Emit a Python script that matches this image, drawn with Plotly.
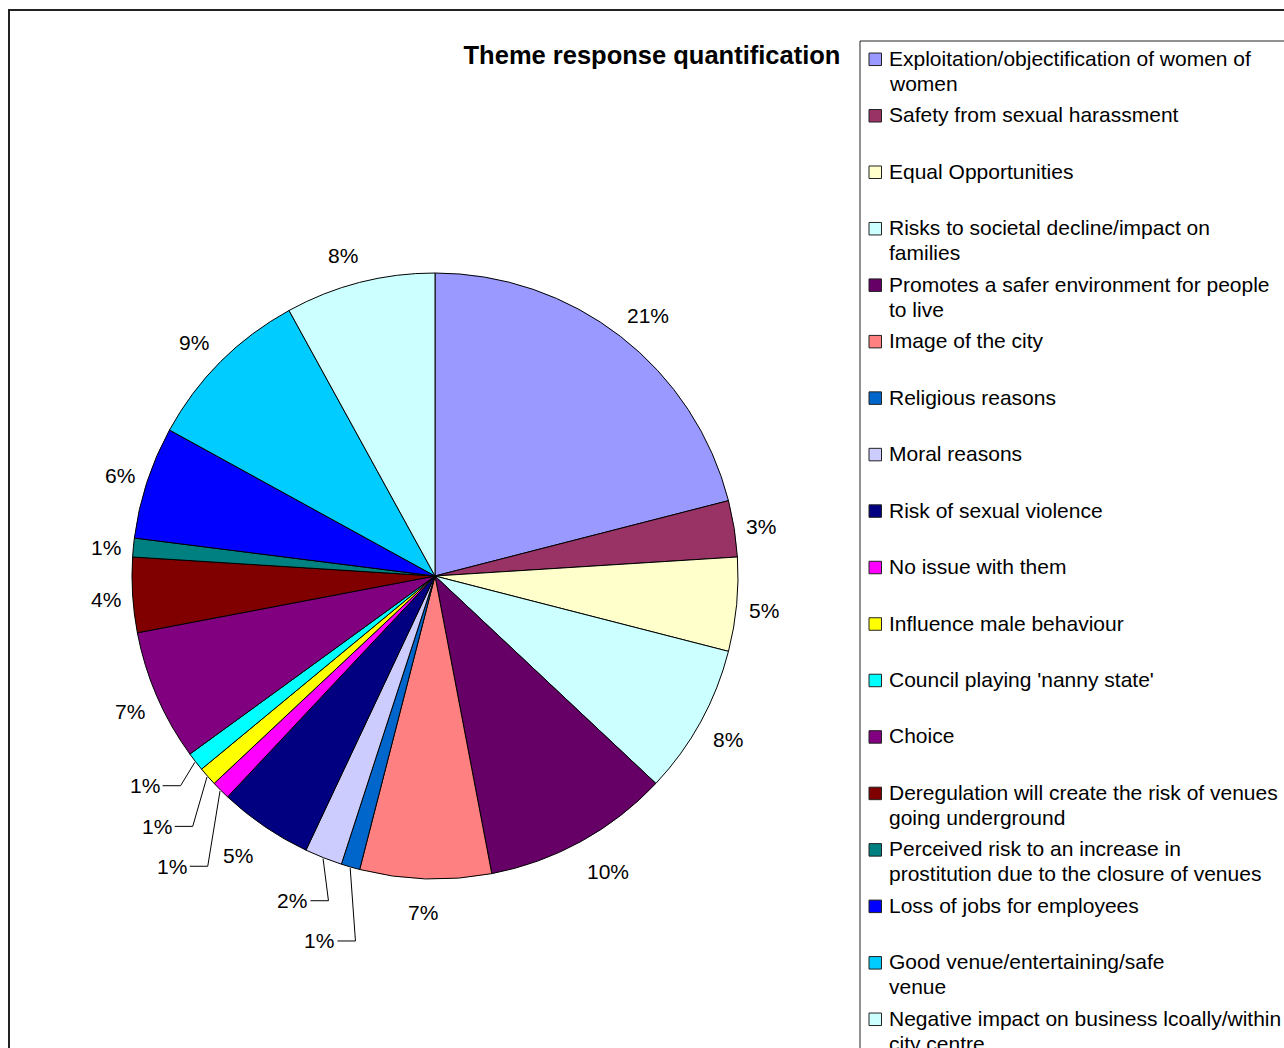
import math
import plotly.graph_objects as go

# Survey themes, in clockwise order from 12 o'clock
themes = [
    "Exploitation/objectification of women of<br>women",
    "Safety from sexual harassment",
    "Equal Opportunities",
    "Risks to societal decline/impact on<br>families",
    "Promotes a safer environment for people<br>to live",
    "Image of the city",
    "Religious reasons",
    "Moral reasons",
    "Risk of sexual violence",
    "No issue with them",
    "Influence male behaviour",
    "Council playing 'nanny state'",
    "Choice",
    "Deregulation will create the risk of venues<br>going underground",
    "Perceived risk to an increase in<br>prostitution due to the closure of venues",
    "Loss of jobs for employees",
    "Good venue/entertaining/safe<br>venue",
    "Negative impact on business lcoally/within<br>city centre",
]

# Share of responses per theme (%)
shares = [21, 3, 5, 8, 10, 7, 1, 2, 5, 1, 1, 1, 7, 4, 1, 6, 9, 8]

colors = [
    "#9999FF", "#993366", "#FFFFCC", "#CCFFFF", "#660066", "#FF8080",
    "#0066CC", "#CCCCFF", "#000080", "#FF00FF", "#FFFF00", "#00FFFF",
    "#800080", "#800000", "#008080", "#0000FF", "#00CCFF", "#CCFFFF",
]

W, H = 1284, 1048
FONT = "Arial, Liberation Sans, sans-serif"
LABEL_SIZE = 21


def px(x):
    return x / W


def py(y):
    return 1 - y / H


# Pie geometry in pixels
cx, cy, r = 435, 576, 303

fig = go.Figure(
    go.Pie(
        labels=[t.replace("<br>", " ") for t in themes],
        values=shares,
        sort=False,
        direction="clockwise",
        rotation=0,
        marker=dict(colors=colors, line=dict(color="black", width=1)),
        textinfo="none",
        showlegend=False,
        hoverinfo="label+percent",
        domain=dict(x=[px(cx - r), px(cx + r)], y=[py(cy + r), py(cy - r)]),
    )
)

shapes = [
    # outer chart frame
    dict(type="rect", xref="paper", yref="paper",
         x0=px(9), x1=px(W + 20), y0=py(10), y1=py(H + 20),
         line=dict(color="#222222", width=2), layer="below"),
    # legend frame
    dict(type="rect", xref="paper", yref="paper",
         x0=px(860), x1=px(W + 20), y0=py(41), y1=py(H + 20),
         line=dict(color="#222222", width=1), layer="below"),
]
annotations = []

# Percentage labels sit just outside each slice's mid-angle.  The thin
# slices that would collide get a callout: the label is offset by (dx, dy)
# pixels from the slice rim and joined to it with an elbow leader line.
callouts = {6: (-31, 74), 7: (-31, 43), 9: (-49, 76), 10: (-51, 50), 11: (-51, 24)}
total = sum(shares)
cum = 0
for i, v in enumerate(shares):
    theta = math.radians(360 * (cum + v / 2) / total)
    cum += v
    ux, uy = math.sin(theta), -math.cos(theta)
    ex, ey = cx + r * ux, cy + r * uy
    text = f"{100 * v / total:.0f}%"
    if i in callouts:
        dx, dy = callouts[i]
        lx, ly = ex + dx, ey + dy
        sx, sy = cx + (r + 1) * ux, cy + (r + 1) * uy
        shapes.append(dict(
            type="path", xref="paper", yref="paper",
            path=(f"M {px(sx)},{py(sy)} L {px(lx + 36)},{py(ly)} "
                  f"L {px(lx + 18)},{py(ly)}"),
            line=dict(color="black", width=1)))
    else:
        lx = ex + math.copysign(27 * min(1.0, abs(ux) / 0.4), ux)
        ly = ey + 3 + 31 * uy
    annotations.append(dict(
        xref="paper", yref="paper", x=px(lx), y=py(ly),
        xanchor="center", yanchor="middle", showarrow=False, text=text,
        font=dict(family=FONT, size=LABEL_SIZE, color="black")))

# Legend entries: swatch + wrapped text
top, step, line_gap = 59.3, 56.47, 25
for i, (name, col) in enumerate(zip(themes, colors)):
    y0 = top + i * step
    shapes.append(dict(type="rect", xref="paper", yref="paper",
                       x0=px(869), x1=px(881.5), y0=py(y0 - 6.25), y1=py(y0 + 6.25),
                       fillcolor=col, line=dict(color="#222222", width=1)))
    for j, line in enumerate(name.split("<br>")):
        annotations.append(dict(
            xref="paper", yref="paper", x=px(887), y=py(y0 - 1 + j * line_gap),
            xanchor="left", yanchor="middle", showarrow=False, text=line,
            font=dict(family=FONT, size=21, color="black")))

fig.update_layout(
    width=W, height=H,
    margin=dict(l=0, r=0, t=0, b=0),
    paper_bgcolor="white", plot_bgcolor="white",
    title=dict(text="<b>Theme response quantification</b>",
               x=px(652), xanchor="center", y=py(55), yanchor="middle",
               font=dict(family=FONT, size=25.5, color="black")),
    shapes=shapes,
    annotations=annotations,
)

fig.write_html("out.html")
